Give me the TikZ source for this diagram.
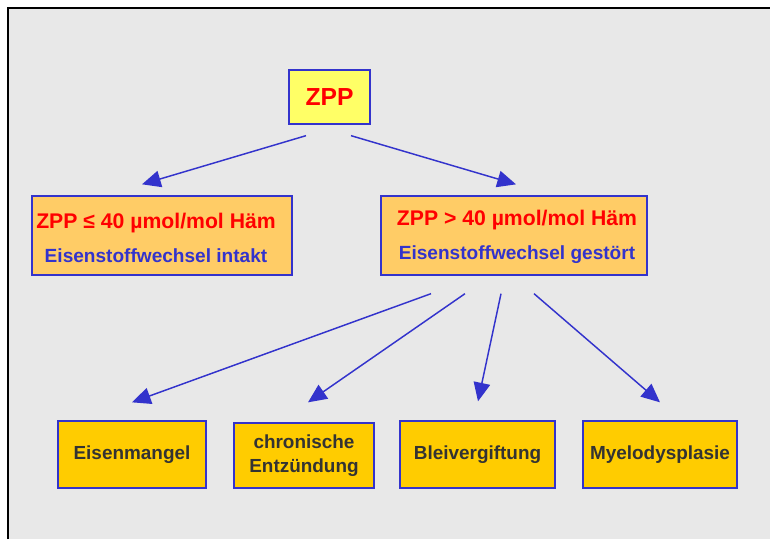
\documentclass[tikz,border=0pt]{standalone}
\usepackage{fontspec}
\setmainfont{Liberation Sans}
\usetikzlibrary{arrows.meta,calc}
\definecolor{bg}{HTML}{E8E8E8}
\definecolor{bblue}{HTML}{3333CC}
\definecolor{ayellow}{HTML}{FFFF66}
\definecolor{lorange}{HTML}{FFCC66}
\definecolor{gold}{HTML}{FFCC00}
\definecolor{dtext}{HTML}{333333}
\begin{document}
\begin{tikzpicture}[x=0.75pt,y=-0.75pt,
  box/.style={draw=bblue,line width=1pt,inner sep=0pt,align=center,font=\bfseries},
  txt/.style={inner sep=0pt,align=center,font=\bfseries},
  conn/.style={draw=bblue,line width=1.1pt,-{Triangle[length=14pt,width=12.5pt]}},
  bott/.style={box,fill=gold,text=dtext,font=\bfseries\fontsize{14.2}{18}\selectfont}]
\useasboundingbox (0,0) rectangle (770,539);
\fill[bg] (8,8) rectangle (770,539);
\draw[line width=1.5pt] (8,539) -- (8,8) -- (770,8);

\node[box,fill=ayellow,text=red,minimum width=60.75pt,minimum height=40.5pt,
  font=\bfseries\fontsize{18.5}{22}\selectfont] (zpp) at (329.5,97) {ZPP};

\node[box,fill=lorange,minimum width=195pt,minimum height=59.25pt] (left) at (162,235.5) {};
\node[txt] (lefttext) at (156,238)
  {{\color{red}\fontsize{15.9}{18}\selectfont ZPP ≤ 40 µmol/mol Häm}\\[10.5pt]
   {\color{bblue}\fontsize{14.3}{16}\selectfont Eisenstoffwechsel intakt}};
\node[box,fill=lorange,minimum width=199.5pt,minimum height=59.25pt] (right) at (514,235.5) {};
\node[txt] (righttext) at (517,237)
  {{\color{red}\fontsize{15.9}{18}\selectfont ZPP > 40 µmol/mol Häm}\\[10.5pt]
   {\color{bblue}\fontsize{14.3}{16}\selectfont Eisenstoffwechsel gestört}};

\node[bott,minimum width=111pt,minimum height=50.25pt] (b1) at (132,454.5) {Eisenmangel};
\node[bott,minimum width=105pt,minimum height=48.75pt] (b2) at (304,455.5) {chronische\\Entzündung};
\node[bott,minimum width=116.25pt,minimum height=50.25pt] (b3) at (477.5,454.5) {Bleivergiftung};
\node[bott,minimum width=115.5pt,minimum height=50.25pt] (b4) at (660,454.5) {Myelodysplasie};

\draw[conn] ($(zpp.south)+(-23.5,11)$) -- ($(left.north)+(-20,-11)$);
\draw[conn] ($(zpp.south)+(21.5,11)$) -- ($(right.north)+(2,-11)$);
\draw[conn] ($(right.south)+(-83,18)$) -- ($(b1.north)+(0,-18)$);
\draw[conn] ($(right.south)+(-49,18)$) -- ($(b2.north)+(4,-20)$);
\draw[conn] ($(right.south)+(-13,18)$) -- ($(b3.north)+(0.5,-19)$);
\draw[conn] ($(right.south)+(20,18)$) -- ($(b4.north)+(0,-18)$);
\end{tikzpicture}
\end{document}
